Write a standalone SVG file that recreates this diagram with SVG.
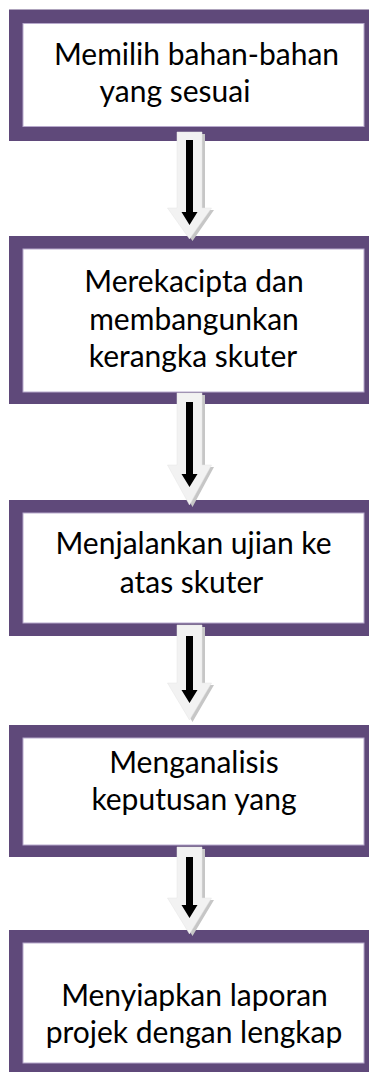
<svg xmlns="http://www.w3.org/2000/svg" width="369" height="1072" viewBox="0 0 369 1072">
<style>
.outer{fill:#5F497A}
.inner{fill:#ffffff;stroke:#B7A9CC;stroke-width:1}
.t{font-family:Lato,"Open Sans",sans-serif;font-size:30px;fill:#000;text-anchor:middle}
.sh{fill:#C6C6C6}
.lt{fill:#F2F2F2;stroke:#E4E4E4;stroke-width:0.5}
.bk{fill:#000}
</style>
<rect width="369" height="1072" fill="#fff"/>
<g id="node1">
<rect class="outer" x="9" y="9.5" width="370" height="131.5"/>
<rect class="inner" x="23" y="23.5" width="341" height="103"/>
<text class="t" x="196.5" y="65">Memilih bahan-bahan</text>
<text class="t" x="175" y="101.5">yang sesuai</text>
</g>
<g id="node2">
<rect class="outer" x="9" y="236" width="370" height="168"/>
<rect class="inner" x="23" y="249" width="341" height="143"/>
<text class="t" x="194" y="291.5">Merekacipta dan</text>
<text class="t" x="194" y="329.5">membangunkan</text>
<text class="t" x="193" y="366.5">kerangka skuter</text>
</g>
<g id="node3">
<rect class="outer" x="9" y="500" width="370" height="136"/>
<rect class="inner" x="23" y="513" width="341" height="110"/>
<text class="t" x="193.5" y="553.5">Menjalankan ujian ke</text>
<text class="t" x="191.5" y="592.5">atas skuter</text>
</g>
<g id="node4">
<rect class="outer" x="9" y="725" width="370" height="132"/>
<rect class="inner" x="23" y="738" width="341" height="107"/>
<text class="t" x="194" y="773">Menganalisis</text>
<text class="t" x="194" y="810">keputusan yang</text>
</g>
<g id="node5">
<rect class="outer" x="9" y="930" width="370" height="150"/>
<rect class="inner" x="23" y="943" width="341" height="120"/>
<text class="t" x="194.5" y="1006">Menyiapkan laporan</text>
<text class="t" x="194" y="1043">projek dengan lengkap</text>
</g>
<g id="connectors">
<g id="arrow1">
<polygon class="sh" points="180,134 205,134 205,210 214,210 192.5,241 171,210 180,210"/>
<polygon class="lt" points="177,132 202,132 202,208 211.5,208 189.5,239 167.5,208 177,208"/>
<polygon class="bk" points="186,140 193,140 193,212 197.5,212 189.5,225 181.5,212 186,212"/>
</g>
<g id="arrow2">
<polygon class="sh" points="180,395 205,395 205,467 214,467 192.5,507 171,467 180,467"/>
<polygon class="lt" points="177,393 202,393 202,465 211.5,465 189.5,505 167.5,465 177,465"/>
<polygon class="bk" points="186,402 193,402 193,474 197.5,474 189.5,487 181.5,474 186,474"/>
</g>
<g id="arrow3">
<polygon class="sh" points="180,627 205,627 205,685 214,685 192.5,722 171,685 180,685"/>
<polygon class="lt" points="177,625 202,625 202,683 211.5,683 189.5,720 167.5,683 177,683"/>
<polygon class="bk" points="186,636 193,636 193,690 197.5,690 189.5,703 181.5,690 186,690"/>
</g>
<g id="arrow4">
<polygon class="sh" points="180,849 205,849 205,900 214,900 192.5,936 171,900 180,900"/>
<polygon class="lt" points="177,847 202,847 202,898 211.5,898 189.5,934 167.5,898 177,898"/>
<polygon class="bk" points="186,857 193,857 193,905 197.5,905 189.5,918 181.5,905 186,905"/>
</g>
</g>
</svg>
